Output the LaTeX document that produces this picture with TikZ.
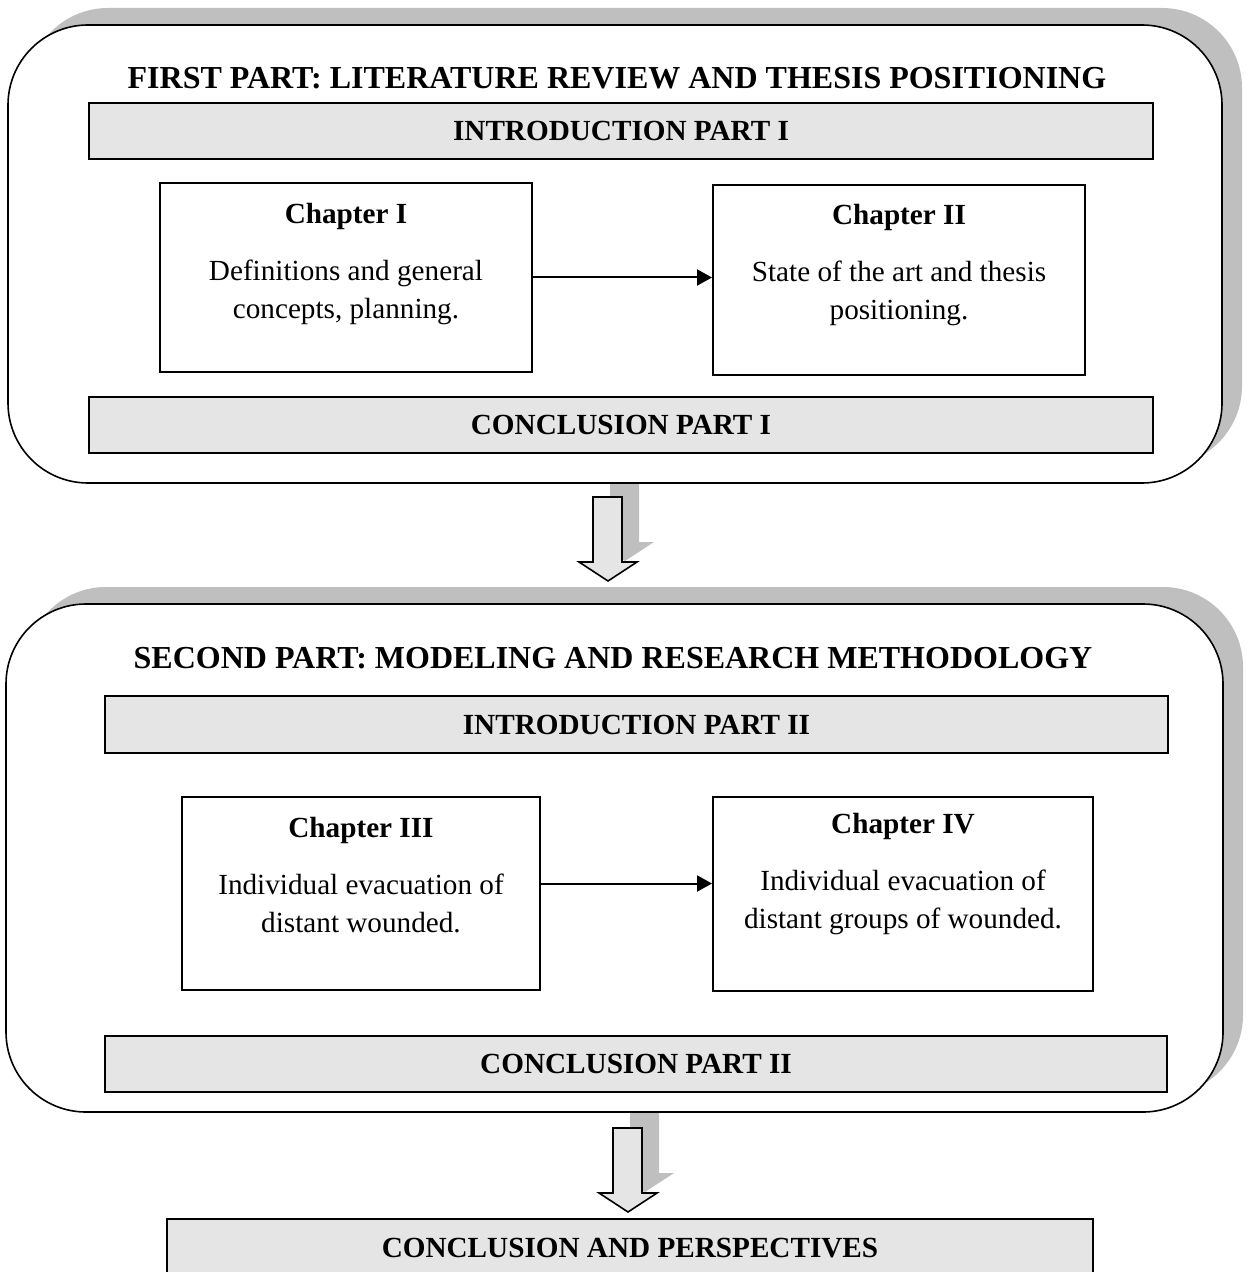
\documentclass[tikz,border=0pt]{standalone}
\usepackage{fontspec}
\setmainfont{Liberation Serif}
\usetikzlibrary{arrows.meta,shadows}

\tikzset{
  partbox/.style={draw, line width=0.8pt, fill=white, rounded corners=40pt,
    drop shadow={shadow xshift=10pt, shadow yshift=8.5pt, fill=gray!50, opacity=1}},
  parttitle/.style={inner sep=0pt, font=\fontsize{16}{19}\selectfont\bfseries},
  bar/.style={draw, line width=1pt, fill=gray!20, inner sep=0pt,
    font=\fontsize{14.6}{19}\selectfont\bfseries},
  chapbox/.style={draw, line width=1pt, fill=white, inner sep=0pt},
  chaptext/.style={anchor=north, align=center, inner sep=0pt,
    font=\fontsize{14.6}{19}\selectfont},
  chaparrow/.style={line width=1pt, -{Triangle[length=7.5pt,width=8pt]}},
  blockarrow/.style={draw, line width=0.8pt, fill=gray!20,
    drop shadow={shadow xshift=8.5pt, shadow yshift=10pt, fill=gray!50, opacity=1}}
}

\begin{document}
\begin{tikzpicture}[x=0.5pt,y=-0.5pt]
\useasboundingbox (0,0) rectangle (1246,1272);

% block arrows between the parts
\filldraw[blockarrow] (593,497) -- (622,497) -- (622,562) -- (637,562) -- (608,581)
  -- (579,562) -- (593,562) -- cycle;
\filldraw[blockarrow] (613,1128) -- (642,1128) -- (642,1193) -- (657,1193) -- (628,1212)
  -- (599,1193) -- (613,1193) -- cycle;

% first part
\node[partbox, minimum width=607pt, minimum height=229pt] (partI) at (615,254) {};
\node[parttitle] (titleI) at (617,78) {FIRST PART: LITERATURE REVIEW AND THESIS POSITIONING};
\node[bar, minimum width=532pt, minimum height=28pt] (introI) at (621,131) {INTRODUCTION PART I};
\node[chapbox, minimum width=186pt, minimum height=94.5pt] (chI) at (346,277.5) {};
\node[chaptext] (chItext) at (346,203) {\textbf{Chapter I}\\[9.5pt]Definitions and general\\concepts, planning.};
\node[chapbox, minimum width=186pt, minimum height=95pt] (chII) at (899,280) {};
\node[chaptext] (chIItext) at (899,204) {\textbf{Chapter II}\\[9.5pt]State of the art and thesis\\positioning.};
\draw[chaparrow] (chI.east) -- (chI.east -| chII.west);
\node[bar, minimum width=532pt, minimum height=28pt] (conclI) at (621,425) {CONCLUSION PART I};

% second part
\node[partbox, minimum width=608.5pt, minimum height=254pt] (partII) at (614.5,858) {};
\node[parttitle] (titleII) at (613,658) {SECOND PART: MODELING AND RESEARCH METHODOLOGY};
\node[bar, minimum width=531.5pt, minimum height=28.5pt] (introII) at (636.5,724.5) {INTRODUCTION PART II};
\node[chapbox, minimum width=179pt, minimum height=96.5pt] (chIII) at (361,893.5) {};
\node[chaptext] (chIIItext) at (361,817) {\textbf{Chapter III}\\[9.5pt]Individual evacuation of\\distant wounded.};
\node[chapbox, minimum width=190pt, minimum height=97pt] (chIV) at (903,894) {};
\node[chaptext] (chIVtext) at (903,813) {\textbf{Chapter IV}\\[9.5pt]Individual evacuation of\\distant groups of wounded.};
\draw[chaparrow] ([yshift=5pt]chIII.east) -- ([yshift=5pt]chIII.east -| chIV.west);
\node[bar, minimum width=531pt, minimum height=28pt] (conclII) at (636,1064) {CONCLUSION PART II};

% final conclusion
\node[bar, minimum width=463pt, minimum height=29pt] (final) at (630,1248) {CONCLUSION AND PERSPECTIVES};
\end{tikzpicture}
\end{document}
